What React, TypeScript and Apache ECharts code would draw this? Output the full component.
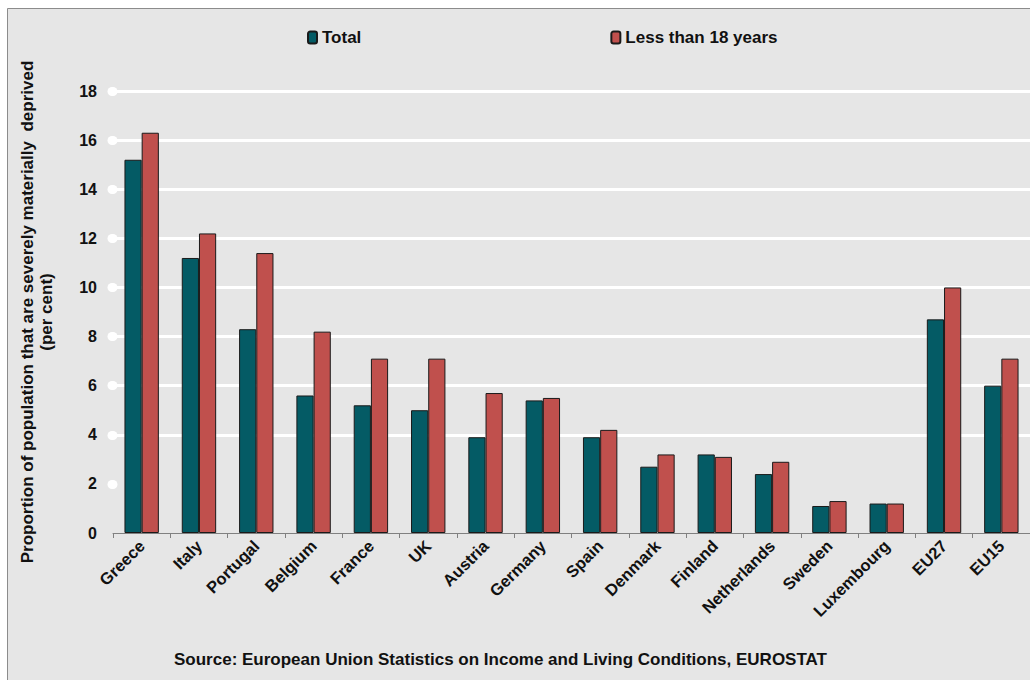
import React, { useEffect, useRef } from "react";
import * as echarts from "echarts";

const categories = ["Greece", "Italy", "Portugal", "Belgium", "France", "UK", "Austria", "Germany", "Spain", "Denmark", "Finland", "Netherlands", "Sweden", "Luxembourg", "EU27", "EU15"];
const totalValues = [15.2, 11.2, 8.3, 5.6, 5.2, 5.0, 3.9, 5.4, 3.9, 2.7, 3.2, 2.4, 1.1, 1.2, 8.7, 6.0];
const under18Values = [16.3, 12.2, 11.4, 8.2, 7.1, 7.1, 5.7, 5.5, 4.2, 3.2, 3.1, 2.9, 1.3, 1.2, 10.0, 7.1];
const dotTicks = [2, 4, 6, 8, 10, 12, 14, 16, 18];

const FONT = "'Liberation Sans', Arial, sans-serif";

export default function App() {
  const ref = useRef<HTMLDivElement>(null);
  useEffect(() => {
    const chart = echarts.init(ref.current!, null, { renderer: "svg" });
    chart.setOption({
      animation: false,
      backgroundColor: "#ffffff",
      textStyle: { fontFamily: FONT },
      graphic: [
        {
          type: "rect",
          z: -10,
          silent: true,
          shape: { x: 7.5, y: 8.5, width: 1040, height: 700 },
          style: { fill: "#e6e6e6", stroke: "#8c8c8c", lineWidth: 1 },
        },
        {
          type: "text",
          left: 174,
          top: 651,
          style: {
            text: "Source: European Union Statistics on Income and Living Conditions, EUROSTAT",
            font: `bold 17px ${FONT}`,
            fill: "#111",
          },
        },
      ],
      legend: {
        top: 24,
        left: 302,
        itemWidth: 9,
        itemHeight: 12,
        itemGap: 249,
        textStyle: { fontWeight: "bold", fontSize: 17, color: "#111", fontFamily: FONT },
        data: ["Total", "Less than 18 years"],
      },
      grid: { left: 113, right: 0, top: 91, bottom: 147, containLabel: false },
      xAxis: {
        type: "category",
        data: categories,
        axisLine: { lineStyle: { color: "#808080", width: 1 } },
        axisTick: { show: true, length: 5, lineStyle: { color: "#808080" } },
        axisLabel: {
          rotate: 45,
          margin: 10,
          fontWeight: "bold",
          fontSize: 16.5,
          color: "#111",
          fontFamily: FONT,
          interval: 0,
        },
      },
      yAxis: {
        type: "value",
        min: 0,
        max: 18,
        interval: 2,
        name: "Proportion of population that are severely materially  deprived\n(per cent)",
        nameLocation: "middle",
        nameRotate: 90,
        nameGap: 57,
        nameTextStyle: { fontWeight: "bold", fontSize: 17, color: "#111", fontFamily: FONT, lineHeight: 19, align: "center" },
        axisLine: { show: false },
        axisTick: {
          show: true,
          customValues: dotTicks,
          length: 1,
          inside: false,
          lineStyle: { color: "#ffffff", width: 9, cap: "round" },
        },
        splitLine: { show: true, showMinLine: false, lineStyle: { color: "#ffffff", width: 3 } },
        axisLabel: { margin: 16, fontWeight: "bold", fontSize: 16, color: "#111", fontFamily: FONT },
      },
      series: [
        {
          name: "Total",
          type: "bar",
          data: totalValues,
          barGap: "0%",
          barCategoryGap: "40%",
          itemStyle: { color: "#045b65", borderColor: "#1a1a1a", borderWidth: 1 },
        },
        {
          name: "Less than 18 years",
          type: "bar",
          data: under18Values,
          itemStyle: { color: "#c0504d", borderColor: "#1a1a1a", borderWidth: 1 },
        },
      ],
    });
    return () => chart.dispose();
  }, []);
  return (
    <div
      ref={ref}
      style={{ position: "fixed", left: 0, top: 0, width: 1030, height: 680 }}
    />
  );
}
